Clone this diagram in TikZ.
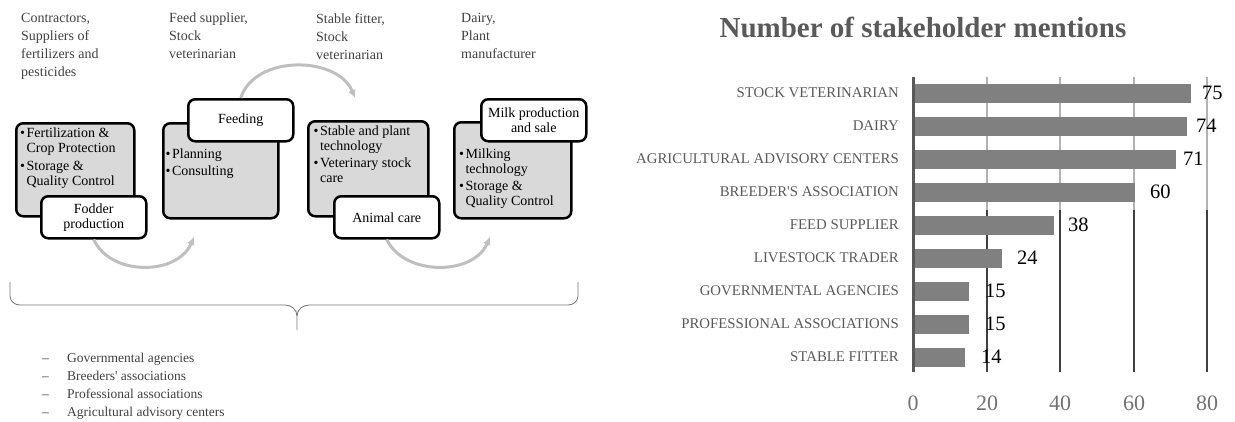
\documentclass[tikz,border=0pt]{standalone}
\usepackage{fontspec}
\setmainfont{Liberation Serif}
\usetikzlibrary{arrows.meta}
\definecolor{txtgray}{HTML}{404040}
\definecolor{labgray}{HTML}{595959}
\definecolor{bargray}{HTML}{808080}
\definecolor{arcgray}{HTML}{BFBFBF}
\definecolor{boxgray}{HTML}{D9D9D9}
\tikzset{
  actor/.style={anchor=north west, inner sep=0pt, align=left, text=txtgray, font=\fontsize{14}{18}\selectfont},
  stagebox/.style={draw, line width=2.5pt, fill=boxgray, rounded corners=7pt, anchor=north west, inner sep=0pt},
  tagbox/.style={draw, line width=2.5pt, fill=white, rounded corners=7pt, anchor=north west, inner sep=0pt,
    minimum width=105pt, minimum height=42pt, align=center, font=\fontsize{14}{15}\selectfont},
  tasks/.style={anchor=north west, inner sep=0pt, font=\fontsize{14}{15}\selectfont},
  flow/.style={draw=arcgray, line width=3pt, -{Latex[length=8pt,width=8pt]}},
  brace/.style={draw=black!55, line width=0.8pt},
  listing/.style={anchor=north west, inner sep=0pt, text=txtgray, font=\fontsize{13.5}{18}\selectfont},
  catlab/.style={anchor=east, inner sep=0pt, text=labgray, font=\fontsize{14.8}{15}\selectfont},
  valab/.style={anchor=west, inner sep=0pt, font=\fontsize{20.5}{21}\selectfont},
  ticklab/.style={inner sep=0pt, text=labgray!85, font=\fontsize{22}{22}\selectfont},
  gridup/.style={draw=black!30, line width=1.3pt},
  griddown/.style={draw=black!75, line width=1.3pt}
}
\begin{document}
\begin{tikzpicture}[x=1pt,y=-1pt]
\useasboundingbox (0,0) rectangle (1235,421);

% who is involved in each stage
\node[actor] (hdrA) at (21,13) {Contractors,\\Suppliers of\\fertilizers and\\pesticides};
\node[actor] (hdrB) at (169,13) {Feed supplier,\\Stock\\veterinarian};
\node[actor] (hdrC) at (316,13) {Stable fitter,\\Stock\\veterinarian};
\node[actor] (hdrD) at (461,13) {Dairy,\\Plant\\manufacturer};

% stages
\node[stagebox, minimum width=118pt, minimum height=93pt] (boxA) at (15,122) {};
\node[stagebox, minimum width=115pt, minimum height=95pt] (boxB) at (162,122) {};
\node[stagebox, minimum width=120pt, minimum height=95pt] (boxC) at (307,120) {};
\node[stagebox, minimum width=117pt, minimum height=96pt] (boxD) at (453,121) {};

\node[tasks] (txtA) at ([shift={(5,4.5)}]boxA.north west) {\begin{tabular}{@{}l@{\hspace{1.5pt}}l@{}}
  \textbullet & Fertilization \&\\ & Crop Protection\\[3pt] \textbullet & Storage \&\\ & Quality Control\end{tabular}};
\node[tasks] (txtB) at ([shift={(3.5,25.5)}]boxB.north west) {\begin{tabular}{@{}l@{\hspace{1.5pt}}l@{}}
  \textbullet & Planning\\[2pt] \textbullet & Consulting\end{tabular}};
\node[tasks] (txtC) at ([shift={(6.5,4.5)}]boxC.north west) {\begin{tabular}{@{}l@{\hspace{1.5pt}}l@{}}
  \textbullet & Stable and plant\\ & technology\\[2.5pt] \textbullet & Veterinary stock\\ & care\end{tabular}};
\node[tasks] (txtD) at ([shift={(6,26.5)}]boxD.north west) {\begin{tabular}{@{}l@{\hspace{1.5pt}}l@{}}
  \textbullet & Milking\\ & technology\\[2pt] \textbullet & Storage \&\\ & Quality Control\end{tabular}};

\node[tagbox] (tagA) at (40,195) {Fodder\\production};
\node[tagbox] (tagB) at (187,98) {Feeding};
\node[tagbox] (tagC) at (333,195) {Animal care};
\node[tagbox] (tagD) at (480,98) {Milk production\\and sale};

% arrows between stages
\coordinate (inB) at (194,237);
\coordinate (inC) at (355,98);
\coordinate (inD) at (490,237);
\draw[flow] (tagA.south) .. controls (110,276) and (177,276) .. (inB);
\draw[flow] (tagB.north) .. controls (255,54) and (338,56) .. (inC);
\draw[flow] (tagC.south) .. controls (404,276) and (473,276) .. (inD);

% brace
\draw[brace] (10,282) -- (10,296) to[out=-90,in=180] (20,305) -- (285,305) to[out=0,in=90] (297,316) -- (297,330);
\draw[brace] (297,316) to[out=90,in=180] (309,305) -- (568,305) to[out=0,in=-90] (578,296) -- (578,282);

\node[listing] (others) at (42,350) {\begin{tabular}{@{}p{25pt}@{}l@{}}
  -- & Governmental agencies\\ -- & Breeders\textquotesingle\ associations\\ -- & Professional associations\\ -- & Agricultural advisory centers\end{tabular}};

% chart
\node[text=labgray, font=\bfseries\fontsize{29}{30}\selectfont, inner sep=0pt] (ttl) at (923,27) {Number of stakeholder mentions};

\draw[gridup] (987,77) -- (987,210);
\draw[gridup] (1060,77) -- (1060,210);
\draw[gridup] (1134,77) -- (1134,210);
\draw[gridup] (1207,77) -- (1207,210);
\draw[griddown] (987,210) -- (987,372);
\draw[griddown] (1060,210) -- (1060,372);
\draw[griddown] (1134,210) -- (1134,372);
\draw[griddown] (1207,210) -- (1207,372);

\fill[bargray] (913,83.5) rectangle (1190.5,103);
\fill[bargray] (913,116.5) rectangle (1186.8,136);
\fill[bargray] (913,149.5) rectangle (1175.7,169);
\fill[bargray] (913,182.5) rectangle (1135,202);
\fill[bargray] (913,215.5) rectangle (1053.6,235);
\fill[bargray] (913,248.5) rectangle (1001.8,268);
\fill[bargray] (913,281.5) rectangle (968.5,301);
\fill[bargray] (913,314.5) rectangle (968.5,334);
\fill[bargray] (913,347.5) rectangle (964.8,367);

\draw[draw=labgray, line width=3pt] (913,77) -- (913,372);

\node[catlab] (catA) at (899,93) {STOCK VETERINARIAN};
\node[catlab] (catB) at (899,126) {DAIRY};
\node[catlab] (catC) at (899,159) {AGRICULTURAL ADVISORY CENTERS};
\node[catlab] (catD) at (899,192) {BREEDER\textquotesingle S ASSOCIATION};
\node[catlab] (catE) at (899,225) {FEED SUPPLIER};
\node[catlab] (catF) at (899,258) {LIVESTOCK TRADER};
\node[catlab] (catG) at (899,291) {GOVERNMENTAL AGENCIES};
\node[catlab] (catH) at (899,324) {PROFESSIONAL ASSOCIATIONS};
\node[catlab] (catI) at (899,357) {STABLE FITTER};

\node[valab] (valA) at (1202,93) {75};
\node[valab] (valB) at (1196,126) {74};
\node[valab] (valC) at (1183,159) {71};
\node[valab] (valD) at (1150,192) {60};
\node[valab] (valE) at (1068,225) {38};
\node[valab] (valF) at (1017,258) {24};
\node[valab] (valG) at (985,291) {15};
\node[valab] (valH) at (985,324) {15};
\node[valab] (valI) at (981,357) {14};

\node[ticklab] (tkA) at (913,403) {0};
\node[ticklab] (tkB) at (987,403) {20};
\node[ticklab] (tkC) at (1060,403) {40};
\node[ticklab] (tkD) at (1134,403) {60};
\node[ticklab] (tkE) at (1207,403) {80};
\end{tikzpicture}
\end{document}
